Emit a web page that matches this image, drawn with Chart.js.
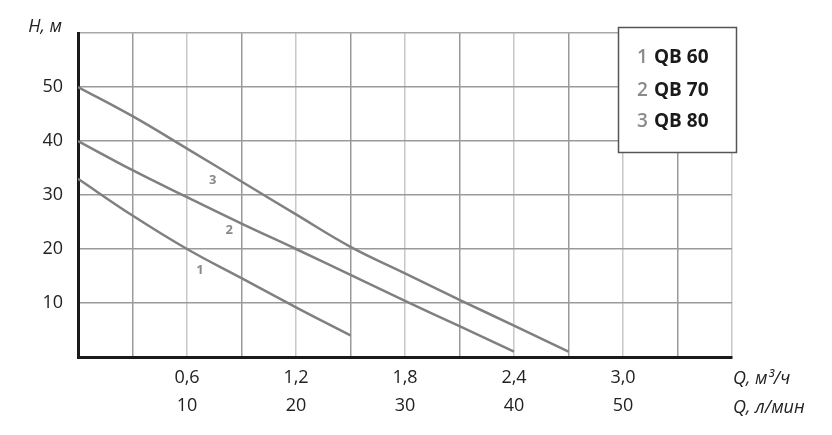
<!DOCTYPE html>
<html>
<head>
<meta charset="utf-8">
<script src="https://cdn.jsdelivr.net/npm/chart.js@4.4.1/dist/chart.umd.min.js"></script>
<style>
  html, body { margin: 0; padding: 0; background: #fff; }
  #wrap { width: 832px; height: 435px; position: relative; }
</style>
</head>
<body>
<div id="wrap"><canvas id="chart"></canvas></div>
<script>
// Pump curves QB 60 / 70 / 80: head H (m) vs flow Q (m3/h)
const flowQB60 = [0, 0.3, 0.6, 0.9, 1.2, 1.5];
const headQB60 = [33, 26.2, 20, 14.6, 9.2, 4];

const flowQB70 = [0, 0.3, 0.6, 0.9, 1.2, 1.5, 1.8, 2.1, 2.4];
const headQB70 = [40, 34.6, 29.6, 24.7, 20, 15.2, 10.4, 5.7, 1];

const flowQB80 = [0, 0.3, 0.6, 0.9, 1.2, 1.5, 1.8, 2.1, 2.4, 2.7];
const headQB80 = [50, 44.6, 38.6, 32.5, 26.4, 20.4, 15.5, 10.6, 5.8, 1];

const seriesNames = ['QB 60', 'QB 70', 'QB 80'];

// x tick labels: m3/h on the first row, l/min on the second
const xTickValues = [0.6, 1.2, 1.8, 2.4, 3.0];
const xTickM3h = ['0,6', '1,2', '1,8', '2,4', '3,0'];
const xTickLmin = ['10', '20', '30', '40', '50'];
const yTickValues = [10, 20, 30, 40, 50];

const FONT = '"Open Sans", "Noto Sans", sans-serif';
const lineColor = '#808080';

function toPoints(xs, ys) {
    return xs.map(function (x, i) { return { x: x, y: ys[i] }; });
}

function makeSet(name, xs, ys) {
    return {
        label: name,
        data: toPoints(xs, ys),
        borderColor: lineColor,
        borderWidth: 2.5,
        pointRadius: 0,
        tension: 0.4,
        fill: false
    };
}

const ctx = document.getElementById('chart').getContext('2d');

new Chart(ctx, {
    type: 'line',
    data: {
        datasets: [
            makeSet(seriesNames[0], flowQB60, headQB60),
            makeSet(seriesNames[1], flowQB70, headQB70),
            makeSet(seriesNames[2], flowQB80, headQB80)
        ]
    },
    options: {
        responsive: true,
        maintainAspectRatio: false,
        animation: false,
        layout: { padding: { top: 33, right: 100, left: 0, bottom: 0 } },
        plugins: {
            legend: { display: false },
            tooltip: { enabled: false }
        },
        scales: {
            x: {
                type: 'linear',
                min: 0,
                max: 3.6,
                afterFit: function (scale) { scale.height = 78; },
                afterBuildTicks: function (scale) {
                    const t = [];
                    for (let i = 0; i <= 12; i++) t.push({ value: +(i * 0.3).toFixed(1) });
                    scale.ticks = t;
                },
                ticks: {
                    autoSkip: false,
                    maxRotation: 0,
                    padding: 6,
                    color: '#222',
                    font: { family: FONT, size: 18, lineHeight: 1.6 },
                    callback: function (value) {
                        const i = xTickValues.findIndex(function (v) { return Math.abs(v - value) < 1e-6; });
                        return i >= 0 ? [xTickM3h[i], xTickLmin[i]] : '';
                    }
                },
                grid: {
                    drawTicks: false,
                    lineWidth: 1.5,
                    color: function (c) {
                        const v = c.tick ? c.tick.value : 0;
                        const r = v / 0.6;
                        return Math.abs(r - Math.round(r)) < 1e-6 ? '#c8c8c8' : '#9a9a9a';
                    }
                },
                border: { display: true, color: '#1a1a1a', width: 3 }
            },
            y: {
                min: 0,
                max: 60,
                afterFit: function (scale) { scale.width = 78; },
                ticks: {
                    stepSize: 10,
                    padding: 15,
                    color: '#222',
                    font: { family: FONT, size: 18 },
                    callback: function (value) {
                        return yTickValues.indexOf(value) >= 0 ? String(value) : '';
                    }
                },
                grid: {
                    drawTicks: false,
                    lineWidth: 1.5,
                    color: function (c) {
                        return c.tick && c.tick.value === 60 ? '#a8a8a8' : '#9a9a9a';
                    }
                },
                border: { display: true, color: '#1a1a1a', width: 3 }
            }
        }
    },
    plugins: [{
        id: 'pumpAnnotations',
        afterDraw: function (chart) {
            const c = chart.ctx;
            const xs = chart.scales.x;
            const ys = chart.scales.y;

            // axis titles
            c.save();
            c.fillStyle = '#222';
            c.font = 'italic 18px ' + FONT;
            c.textBaseline = 'alphabetic';
            c.textAlign = 'right';
            c.fillText('H, м', 62, 32);
            c.textAlign = 'left';
            c.fillText('Q, м³/ч', 733, 384);
            c.fillText('Q, л/мин', 733, 413);
            c.restore();

            // curve numbers
            c.save();
            c.fillStyle = '#8a8a8a';
            c.font = 'bold 13px ' + FONT;
            c.textAlign = 'center';
            c.textBaseline = 'middle';
            c.fillText('1', xs.getPixelForValue(0.672), ys.getPixelForValue(16));
            c.fillText('2', xs.getPixelForValue(0.833), ys.getPixelForValue(23.4));
            c.fillText('3', xs.getPixelForValue(0.741), ys.getPixelForValue(32.8));
            c.restore();

            // legend box
            c.save();
            c.fillStyle = '#fff';
            c.fillRect(618.5, 27.5, 118, 125);
            c.strokeStyle = '#555';
            c.lineWidth = 1.5;
            c.strokeRect(618.5, 27.5, 118, 125);
            c.textAlign = 'left';
            c.textBaseline = 'alphabetic';
            const baselines = [63, 95.5, 127];
            seriesNames.forEach(function (name, i) {
                c.font = '600 19px ' + FONT;
                c.fillStyle = '#8a8a8a';
                c.fillText(String(i + 1), 637, baselines[i]);
                c.font = 'bold 19px ' + FONT;
                c.fillStyle = '#1a1a1a';
                c.fillText(name, 654, baselines[i]);
            });
            c.restore();
        }
    }]
});
</script>
</body>
</html>
